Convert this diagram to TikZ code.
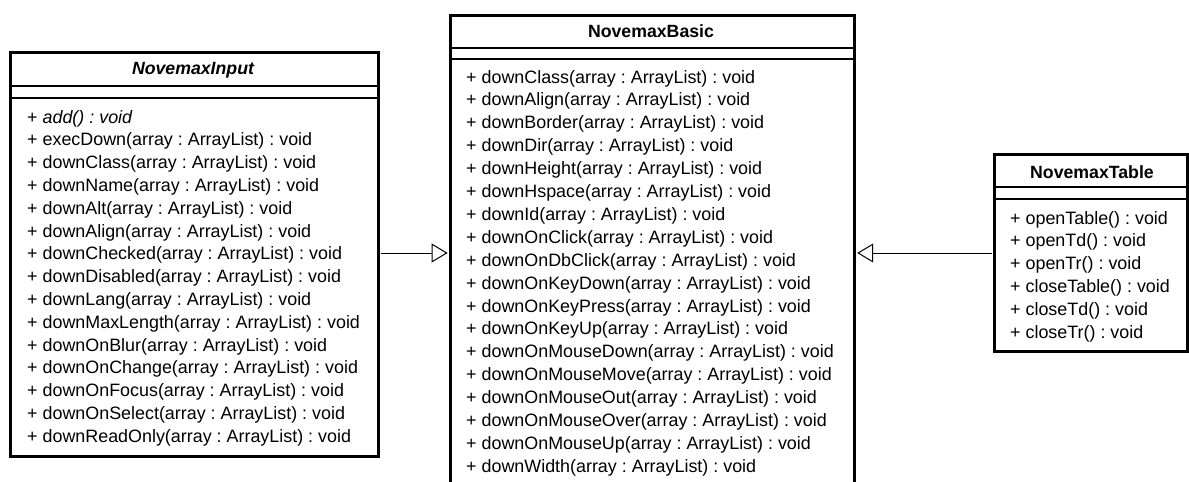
\documentclass[tikz,border=0pt]{standalone}
\usepackage{fontspec}
\setmainfont{Liberation Sans}
\usetikzlibrary{arrows.meta}
\frenchspacing
\begin{document}
\begin{tikzpicture}[x=1pt,y=-1pt,
  classbox/.style={draw=black,line width=2.8pt,fill=white,rectangle,inner sep=0pt,anchor=north west},
  divider/.style={draw=black,line width=1.6pt},
  titletext/.style={font=\fontsize{17.7}{20}\selectfont\bfseries,inner sep=0pt,anchor=base},
  rowtext/.style={font=\fontsize{17.9}{20}\selectfont,inner sep=0pt,anchor=base west},
  inherit/.style={draw=black,line width=1pt,-{Triangle[open,length=16pt,width=19pt,line width=1pt]}}]
\useasboundingbox (0,0) rectangle (1189,482);
\clip (0,0) rectangle (1189,482);
\fill[white] (0,0) rectangle (1189,482);

% NovemaxInput
\node[classbox,minimum width=368pt,minimum height=404pt] (inp) at (9,51) {};
\draw[divider] ([yshift=-35pt]inp.north west) -- ([yshift=-35pt]inp.north east);
\draw[divider] ([yshift=-47pt]inp.north west) -- ([yshift=-47pt]inp.north east);
\node[titletext,font=\fontsize{17.7}{20}\selectfont\bfseries\itshape] (inpT) at (193,74) {NovemaxInput};
\node[rowtext] (inp0) at (27,123) {+ \textit{add() : void}};
\foreach \t [count=\i] in {execDown,downClass,downName,downAlt,downAlign,downChecked,downDisabled,downLang,downMaxLength,downOnBlur,downOnChange,downOnFocus,downOnSelect,downReadOnly}
  \node[rowtext] (inp\i) at (27,123+22.8*\i) {+ \t(array : ArrayList) : void};

% NovemaxBasic
\node[classbox,minimum width=404pt,minimum height=490pt] (bas) at (449,14) {};
\draw[divider] ([yshift=-34pt]bas.north west) -- ([yshift=-34pt]bas.north east);
\draw[divider] ([yshift=-45pt]bas.north west) -- ([yshift=-45pt]bas.north east);
\node[titletext] (basT) at (651,37) {NovemaxBasic};
\foreach \t [count=\i from 0] in {downClass,downAlign,downBorder,downDir,downHeight,downHspace,downId,downOnClick,downOnDbClick,downOnKeyDown,downOnKeyPress,downOnKeyUp,downOnMouseDown,downOnMouseMove,downOnMouseOut,downOnMouseOver,downOnMouseUp,downWidth}
  \node[rowtext] (bas\i) at (466,83+22.9*\i) {+ \t(array : ArrayList) : void};

% NovemaxTable
\node[classbox,minimum width=193pt,minimum height=197pt] (tab) at (993,153) {};
\draw[divider] ([yshift=-34pt]tab.north west) -- ([yshift=-34pt]tab.north east);
\draw[divider] ([yshift=-46pt]tab.north west) -- ([yshift=-46pt]tab.north east);
\node[titletext] (tabT) at (1092,178) {NovemaxTable};
\foreach \t [count=\i from 0] in {openTable,openTd,openTr,closeTable,closeTd,closeTr}
  \node[rowtext] (tab\i) at (1010,224+22.8*\i) {+ \t() : void};

% generalizations
\coordinate (inpR) at (inp.east |- 0,253);
\coordinate (basL) at (bas.west |- 0,253);
\coordinate (basR) at (bas.east |- 0,253);
\coordinate (tabL) at (tab.west |- 0,253);
\draw[inherit] ([xshift=1.4pt]inpR) -- ([xshift=-1.4pt]basL);
\draw[inherit] ([xshift=-1.4pt]tabL) -- ([xshift=1.4pt]basR);
\end{tikzpicture}
\end{document}
